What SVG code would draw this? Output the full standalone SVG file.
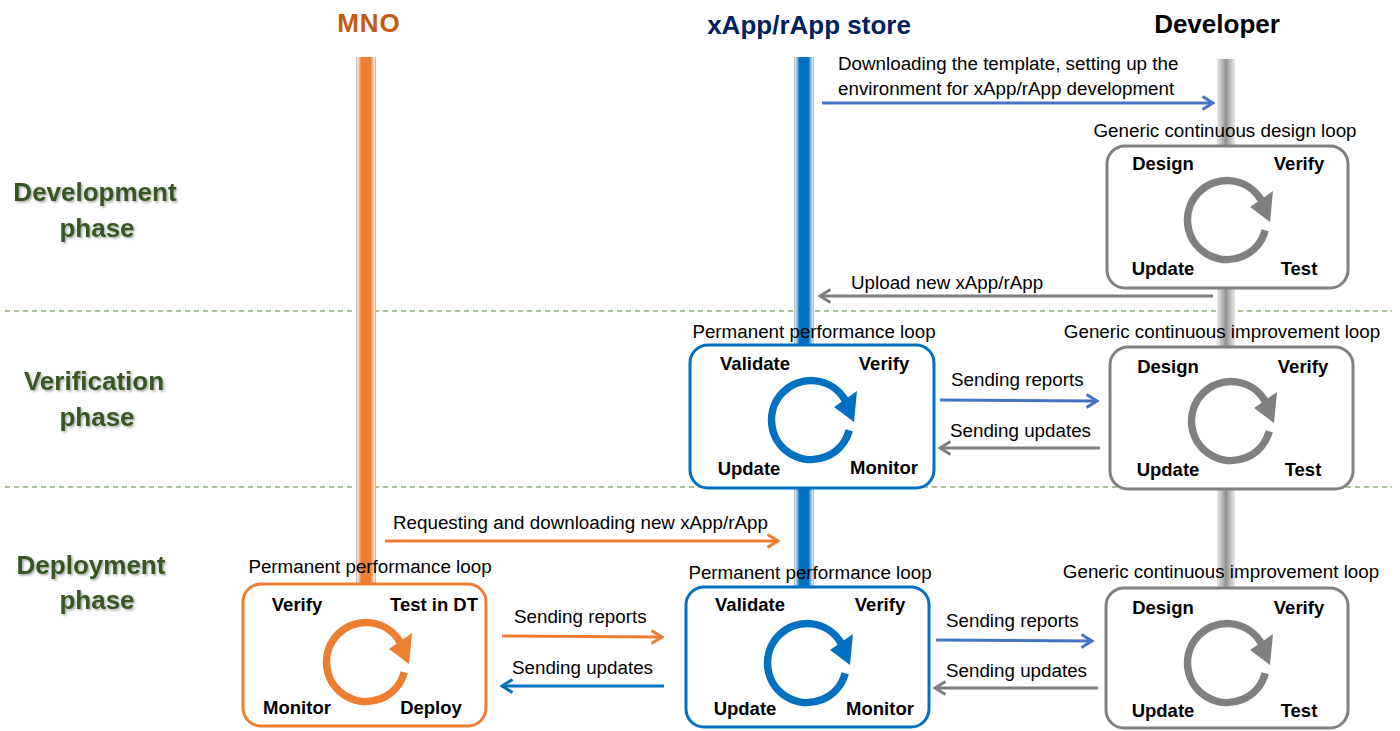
<svg xmlns="http://www.w3.org/2000/svg" xmlns:xlink="http://www.w3.org/1999/xlink" width="1400" height="731" viewBox="0 0 1400 731">
<defs>
<style>
.hdr{font-family:"Liberation Sans",Arial,sans-serif;font-size:26px;font-weight:bold;text-anchor:middle}
.phase{font-family:"Liberation Sans",Arial,sans-serif;font-size:26px;font-weight:bold;fill:#375623;text-anchor:middle;filter:url(#sh)}
.t{font-family:"Liberation Sans",Arial,sans-serif;font-size:18.8px;fill:#000}
.tc{font-family:"Liberation Sans",Arial,sans-serif;font-size:18.8px;fill:#000;text-anchor:middle}
.lb{font-family:"Liberation Sans",Arial,sans-serif;font-size:18.5px;font-weight:bold;fill:#000;text-anchor:middle}
.box{fill:#fff;stroke-width:3}
.conn{fill:none;stroke-width:3}
.dash{stroke:#548235;stroke-width:1.2;stroke-dasharray:5 4;fill:none}
</style>
<filter id="sh" x="-10%" y="-20%" width="130%" height="160%">
<feDropShadow dx="1.5" dy="1.5" stdDeviation="1" flood-color="#000" flood-opacity="0.35"/>
</filter>
<linearGradient id="gOr" x1="0" x2="1" y1="0" y2="0">
<stop offset="0" stop-color="#b0b0b0"/><stop offset="0.08" stop-color="#fbe3d4"/><stop offset="0.28" stop-color="#ed7d31"/><stop offset="0.72" stop-color="#ed7d31"/><stop offset="0.92" stop-color="#fbe3d4"/><stop offset="1" stop-color="#b0b0b0"/>
</linearGradient>
<linearGradient id="gBl" x1="0" x2="1" y1="0" y2="0">
<stop offset="0" stop-color="#b0b0b0"/><stop offset="0.08" stop-color="#cfe3f3"/><stop offset="0.28" stop-color="#0070c0"/><stop offset="0.72" stop-color="#0070c0"/><stop offset="0.92" stop-color="#cfe3f3"/><stop offset="1" stop-color="#b0b0b0"/>
</linearGradient>
<linearGradient id="gGr" x1="0" x2="1" y1="0" y2="0">
<stop offset="0" stop-color="#e8e8e8"/><stop offset="0.3" stop-color="#b8b8b8"/><stop offset="0.5" stop-color="#909090"/><stop offset="0.7" stop-color="#b8b8b8"/><stop offset="1" stop-color="#e8e8e8"/>
</linearGradient>
<marker id="aBlL" viewBox="0 0 14 16" refX="12" refY="8" markerWidth="14" markerHeight="16" markerUnits="userSpaceOnUse" orient="auto"><path d="M1.5,1.5 L12,8 L1.5,14.5" fill="none" stroke="#4472c4" stroke-width="3"/></marker>
<marker id="aBlD" viewBox="0 0 14 16" refX="12" refY="8" markerWidth="14" markerHeight="16" markerUnits="userSpaceOnUse" orient="auto"><path d="M1.5,1.5 L12,8 L1.5,14.5" fill="none" stroke="#0070c0" stroke-width="3"/></marker>
<marker id="aGr" viewBox="0 0 14 16" refX="12" refY="8" markerWidth="14" markerHeight="16" markerUnits="userSpaceOnUse" orient="auto"><path d="M1.5,1.5 L12,8 L1.5,14.5" fill="none" stroke="#7f7f7f" stroke-width="3"/></marker>
<marker id="aOr" viewBox="0 0 14 16" refX="12" refY="8" markerWidth="14" markerHeight="16" markerUnits="userSpaceOnUse" orient="auto"><path d="M1.5,1.5 L12,8 L1.5,14.5" fill="none" stroke="#ed7d31" stroke-width="3"/></marker>
<g id="loop">
<path d="M 38.2 10.2 A 39.5 39.5 0 1 1 34.2 -19.75" fill="none" stroke="currentColor" stroke-width="7.5"/>
<polygon points="23,-13 46,-29 43,2" fill="currentColor"/>
</g>
</defs>

<g id="dividers">
<line class="dash" x1="5" y1="311" x2="1392" y2="311"/>
<line class="dash" x1="5" y1="487" x2="1392" y2="487"/>
</g>

<g id="headers">
<text class="hdr" x="369" y="32" fill="#c55a11" letter-spacing="1">MNO</text>
<text class="hdr" x="809" y="34" fill="#002060">xApp/rApp store</text>
<text class="hdr" x="1217" y="33" fill="#000">Developer</text>
<text class="phase" x="95" y="201">Development</text>
<text class="phase" x="97" y="237">phase</text>
<text class="phase" x="94" y="390">Verification</text>
<text class="phase" x="97" y="426">phase</text>
<text class="phase" x="91" y="574">Deployment</text>
<text class="phase" x="97" y="609">phase</text>
</g>

<g id="lifelines">
<rect x="356" y="57" width="20" height="527" fill="url(#gOr)"/>
<rect x="794" y="57" width="20" height="530" fill="url(#gBl)"/>
<rect x="1217" y="59" width="18" height="529" fill="url(#gGr)"/>
</g>

<g id="connectors">
<line class="conn" x1="822" y1="103" x2="1213" y2="103" stroke="#4472c4" marker-end="url(#aBlL)"/>
<line class="conn" x1="1213" y1="296" x2="820" y2="296" stroke="#7f7f7f" marker-end="url(#aGr)"/>
<line class="conn" x1="940" y1="400" x2="1097" y2="401" stroke="#4472c4" marker-end="url(#aBlL)"/>
<line class="conn" x1="1100" y1="448" x2="940" y2="448" stroke="#7f7f7f" marker-end="url(#aGr)"/>
<line class="conn" x1="385" y1="541" x2="778" y2="541" stroke="#ed7d31" marker-end="url(#aOr)"/>
<line class="conn" x1="502" y1="636" x2="662" y2="637" stroke="#ed7d31" marker-end="url(#aOr)"/>
<line class="conn" x1="664" y1="686" x2="502" y2="686" stroke="#0070c0" marker-end="url(#aBlD)"/>
<line class="conn" x1="936" y1="640" x2="1092" y2="641" stroke="#4472c4" marker-end="url(#aBlL)"/>
<line class="conn" x1="1098" y1="688" x2="935" y2="688" stroke="#7f7f7f" marker-end="url(#aGr)"/>
<text class="t" x="838" y="70">Downloading the template, setting up the</text>
<text class="t" x="838" y="95">environment for xApp/rApp development</text>
<text class="t" x="851" y="289">Upload new xApp/rApp</text>
<text class="t" x="951" y="386">Sending reports</text>
<text class="t" x="950" y="437">Sending updates</text>
<text class="t" x="393" y="529">Requesting and downloading new xApp/rApp</text>
<text class="t" x="514" y="623">Sending reports</text>
<text class="t" x="512" y="674">Sending updates</text>
<text class="t" x="946" y="627">Sending reports</text>
<text class="t" x="946" y="677">Sending updates</text>
</g>

<g id="dev-design-loop">
<text class="tc" x="1225" y="137">Generic continuous design loop</text>
<rect class="box" x="1107" y="146" width="241" height="142" rx="18" stroke="#808080"/>
<use xlink:href="#loop" transform="translate(1227,220)" color="#808080"/>
<text class="lb" x="1163" y="170">Design</text>
<text class="lb" x="1299" y="170">Verify</text>
<text class="lb" x="1163" y="275">Update</text>
<text class="lb" x="1299" y="275">Test</text>
</g>

<g id="store-verification-loop">
<text class="tc" x="814" y="338">Permanent performance loop</text>
<rect class="box" x="690" y="345" width="244" height="143" rx="18" stroke="#0070c0"/>
<use xlink:href="#loop" transform="translate(811,420)" color="#0070c0"/>
<text class="lb" x="755" y="370">Validate</text>
<text class="lb" x="884" y="370">Verify</text>
<text class="lb" x="749" y="475">Update</text>
<text class="lb" x="884" y="474">Monitor</text>
</g>

<g id="dev-verification-loop">
<text class="tc" x="1222" y="338">Generic continuous improvement loop</text>
<rect class="box" x="1110" y="347" width="243" height="142" rx="18" stroke="#808080"/>
<use xlink:href="#loop" transform="translate(1231,421)" color="#808080"/>
<text class="lb" x="1168" y="373">Design</text>
<text class="lb" x="1303" y="373">Verify</text>
<text class="lb" x="1168" y="476">Update</text>
<text class="lb" x="1303" y="476">Test</text>
</g>

<g id="mno-deployment-loop">
<text class="tc" x="370" y="573">Permanent performance loop</text>
<rect class="box" x="243" y="584" width="243" height="142" rx="18" stroke="#ed7d31"/>
<use xlink:href="#loop" transform="translate(366,662)" color="#ed7d31"/>
<text class="lb" x="297" y="611">Verify</text>
<text class="lb" x="434" y="611">Test in DT</text>
<text class="lb" x="297" y="714">Monitor</text>
<text class="lb" x="431" y="714">Deploy</text>
</g>

<g id="store-deployment-loop">
<text class="tc" x="810" y="579">Permanent performance loop</text>
<rect class="box" x="686" y="587" width="243" height="140" rx="18" stroke="#0070c0"/>
<use xlink:href="#loop" transform="translate(807,663)" color="#0070c0"/>
<text class="lb" x="750" y="611">Validate</text>
<text class="lb" x="880" y="611">Verify</text>
<text class="lb" x="745" y="715">Update</text>
<text class="lb" x="880" y="715">Monitor</text>
</g>

<g id="dev-deployment-loop">
<text class="tc" x="1221" y="578">Generic continuous improvement loop</text>
<rect class="box" x="1106" y="588" width="242" height="140" rx="18" stroke="#808080"/>
<use xlink:href="#loop" transform="translate(1227,663)" color="#808080"/>
<text class="lb" x="1163" y="614">Design</text>
<text class="lb" x="1299" y="614">Verify</text>
<text class="lb" x="1163" y="717">Update</text>
<text class="lb" x="1299" y="717">Test</text>
</g>
</svg>
